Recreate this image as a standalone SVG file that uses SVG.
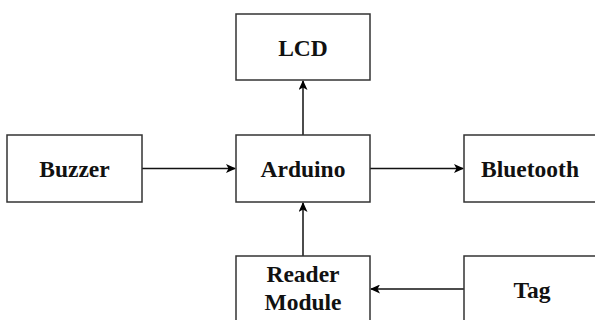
<svg xmlns="http://www.w3.org/2000/svg" width="595" height="320" viewBox="0 0 595 320">
<defs>
<marker id="arr" markerWidth="10" markerHeight="9" refX="9" refY="4.5" orient="auto" markerUnits="userSpaceOnUse">
<path d="M0,0 L10,4.5 L0,9 L2.5,4.5 z" fill="#000"/>
</marker>
<style>
.box{fill:#fff;stroke:#333;stroke-width:1.5}
.lbl{font-family:"Liberation Serif","Times New Roman",serif;font-weight:bold;font-size:23.5px;fill:#111;text-anchor:middle}
.edge{stroke:#111;stroke-width:1.5;fill:none;marker-end:url(#arr)}
</style>
</defs>
<rect width="595" height="320" fill="#fff"/>
<g id="connectors">
<line class="edge" x1="142" y1="168.5" x2="235" y2="168.5"/>
<line class="edge" x1="370" y1="168.5" x2="463" y2="168.5"/>
<line class="edge" x1="303" y1="135" x2="303" y2="81"/>
<line class="edge" x1="303" y1="256" x2="303" y2="203"/>
<line class="edge" x1="464" y1="289" x2="371" y2="289"/>
</g>
<g id="lcd"><rect class="box" x="236" y="14" width="134" height="66"/><text class="lbl" x="303" y="56">LCD</text></g>
<g id="buzzer"><rect class="box" x="7" y="135" width="135" height="67"/><text class="lbl" x="74.5" y="177">Buzzer</text></g>
<g id="arduino"><rect class="box" x="236" y="135" width="134" height="67"/><text class="lbl" x="303" y="177">Arduino</text></g>
<g id="bluetooth"><rect class="box" x="464" y="135" width="134" height="67"/><text class="lbl" x="530" y="177">Bluetooth</text></g>
<g id="reader"><rect class="box" x="236" y="256" width="134" height="67"/><text class="lbl" x="303" y="282">Reader</text><text class="lbl" x="303" y="310">Module</text></g>
<g id="tag"><rect class="box" x="464" y="256" width="134" height="67"/><text class="lbl" x="532" y="298">Tag</text></g>
</svg>
